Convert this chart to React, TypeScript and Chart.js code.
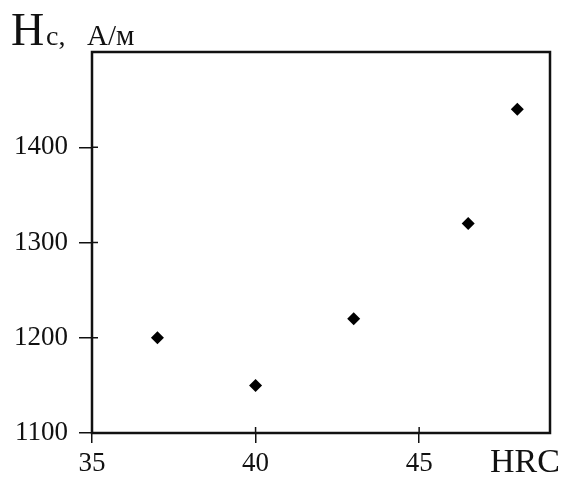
import React, { useEffect, useRef } from "react";
import { Chart, registerables } from "chart.js";

Chart.register(...registerables);

const hrcValues: number[] = [37, 40, 43, 46.5, 48];
const hcValues: number[] = [1200, 1150, 1220, 1320, 1440];
const xTickValues: number[] = [35, 40, 45];
const yTickValues: number[] = [1100, 1200, 1300, 1400];
const yAxisTitleMain = "H";
const yAxisTitleSub = "c";
const yAxisTitleUnit = "А/м";
const xAxisTitle = "HRC";

const FONT = "'Liberation Serif', 'Times New Roman', serif";

const framePlugin = {
  id: "frame",
  afterDraw(chart: any) {
    const { ctx, chartArea } = chart;
    const { left, right, top, bottom } = chartArea;
    ctx.save();
    ctx.strokeStyle = "#111";
    ctx.lineWidth = 2.5;
    ctx.strokeRect(left, top, right - left, bottom - top);
    ctx.lineWidth = 1.5;
    const xs = chart.scales.x;
    const ys = chart.scales.y;
    xTickValues.forEach((v) => {
      const px = xs.getPixelForValue(v);
      ctx.beginPath();
      ctx.moveTo(px, bottom);
      ctx.lineTo(px, bottom - 6);
      ctx.stroke();
    });
    yTickValues.forEach((v) => {
      const py = ys.getPixelForValue(v);
      ctx.beginPath();
      ctx.moveTo(left, py);
      ctx.lineTo(left + 6, py);
      ctx.stroke();
    });
    ctx.fillStyle = "#111";
    ctx.textBaseline = "alphabetic";
    ctx.textAlign = "left";
    ctx.font = `46px ${FONT}`;
    ctx.fillText(yAxisTitleMain, 11, 45);
    ctx.font = `28px ${FONT}`;
    ctx.fillText(yAxisTitleSub + ",", 46, 45);
    ctx.font = `29px ${FONT}`;
    ctx.fillText(yAxisTitleUnit, 87, 45);
    ctx.font = `34px ${FONT}`;
    ctx.fillText(xAxisTitle, 490, 472);
    ctx.restore();
  },
};

export default function App() {
  const ref = useRef<HTMLCanvasElement | null>(null);
  useEffect(() => {
    if (!ref.current) return;
    const chart = new Chart(ref.current, {
      type: "scatter",
      data: {
        datasets: [
          {
            data: hrcValues.map((x, i) => ({ x, y: hcValues[i] })),
            pointStyle: "rectRot",
            pointRadius: 6.5,
            backgroundColor: "#000",
            borderColor: "#000",
            borderWidth: 0,
          },
        ],
      },
      options: {
        animation: false,
        responsive: true,
        maintainAspectRatio: false,
        layout: { padding: { top: 52, right: 13, left: 0, bottom: 0 } },
        plugins: { legend: { display: false }, tooltip: { enabled: false } },
        scales: {
          x: {
            type: "linear",
            min: 35,
            max: 49,
            afterFit: (s: any) => {
              s.height = 46;
            },
            afterBuildTicks: (s: any) => {
              s.ticks = xTickValues.map((v) => ({ value: v }));
            },
            border: { display: false },
            grid: {
              drawOnChartArea: false,
              drawTicks: true,
              tickLength: 10,
              color: "#111",
              lineWidth: 1.5,
            },
            ticks: {
              color: "#111",
              font: { family: FONT, size: 27 },
              padding: 5,
              maxRotation: 0,
              callback: (v: any) => String(v),
            },
          },
          y: {
            type: "linear",
            min: 1100,
            max: 1500,
            afterFit: (s: any) => {
              s.width = 92;
            },
            afterBuildTicks: (s: any) => {
              s.ticks = yTickValues.map((v) => ({ value: v }));
            },
            border: { display: false },
            grid: {
              drawOnChartArea: false,
              drawTicks: true,
              tickLength: 13,
              color: "#111",
              lineWidth: 1.5,
            },
            ticks: {
              color: "#111",
              font: { family: FONT, size: 27 },
              padding: 11,
              callback: (v: any) => String(v),
            },
          },
        },
      },
      plugins: [framePlugin],
    });
    return () => chart.destroy();
  }, []);
  return (
    <div
      style={{
        position: "fixed",
        left: 0,
        top: 0,
        width: 563,
        height: 479,
        background: "#fff",
      }}
    >
      <canvas ref={ref} />
    </div>
  );
}
